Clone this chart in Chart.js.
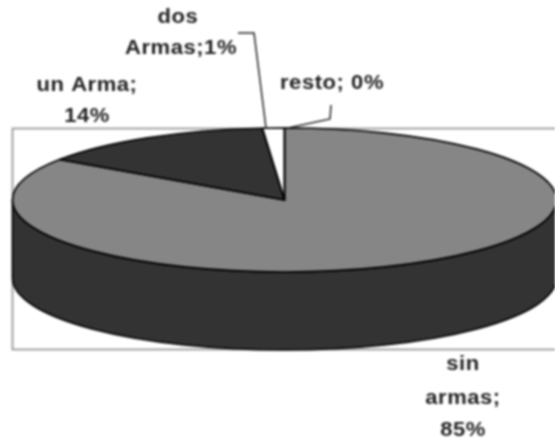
<!DOCTYPE html>
<html>
<head>
<meta charset="utf-8">
<style>
html,body{margin:0;padding:0;background:#fff;overflow:hidden}
#wrap{width:555px;height:440px;position:relative}
canvas{display:block;filter:blur(0.8px)}
</style>
<script src="https://cdn.jsdelivr.net/npm/chart.js@4/dist/chart.umd.min.js"></script>
</head>
<body>
<div id="wrap"><canvas id="c" width="555" height="440"></canvas></div>
<script>
const categories = ['sin armas', 'un Arma', 'dos Armas', 'resto'];
const values = [84.5, 14.2, 1.3, 0];
const sliceColors = ['#868686', '#333333', '#ffffff', '#000000'];

const FACE = {cx: 284.5, cy: 200, rx: 272, ry: 72, depth: 78};
const FONT = 'bold 20px "Liberation Sans", Arial, sans-serif';

function toFace(ctx, el) {
  ctx.translate(FACE.cx, FACE.cy);
  ctx.scale(FACE.rx / el.outerRadius, FACE.ry / el.outerRadius);
  ctx.translate(-el.x, -el.y);
}

const pie3d = {
  id: 'pie3d',
  beforeDatasetsDraw(chart) {
    const ctx = chart.ctx;
    const el = chart.getDatasetMeta(0).data[0];
    // frame
    ctx.save();
    ctx.strokeStyle = '#999999';
    ctx.lineWidth = 1.8;
    ctx.strokeRect(12.5, 128.5, 560, 221);
    ctx.restore();
    // side wall
    ctx.save();
    ctx.beginPath();
    ctx.ellipse(FACE.cx, FACE.cy, FACE.rx, FACE.ry, 0, 0, Math.PI);
    ctx.ellipse(FACE.cx, FACE.cy + FACE.depth, FACE.rx, FACE.ry, 0, Math.PI, 0, true);
    ctx.closePath();
    ctx.fillStyle = '#333333';
    ctx.fill();
    ctx.strokeStyle = '#000';
    ctx.lineWidth = 1.6;
    ctx.stroke();
    ctx.restore();
    ctx.save();
    toFace(ctx, el);
  },
  afterDatasetsDraw(chart) {
    const ctx = chart.ctx;
    ctx.restore();
    const meta = chart.getDatasetMeta(0);
    // slice outlines at a constant width
    meta.data.forEach(el => {
      if (el.circumference <= 0) return;
      ctx.save();
      toFace(ctx, el);
      ctx.beginPath();
      ctx.moveTo(el.x, el.y);
      ctx.arc(el.x, el.y, el.outerRadius, el.startAngle, el.endAngle);
      ctx.closePath();
      ctx.restore();
      ctx.save();
      ctx.strokeStyle = '#000';
      ctx.lineWidth = 1.7;
      ctx.lineJoin = 'round';
      ctx.stroke();
      ctx.restore();
    });
    // leader lines
    ctx.save();
    ctx.strokeStyle = '#222';
    ctx.lineWidth = 1.5;
    ctx.beginPath();
    ctx.moveTo(238, 33); ctx.lineTo(254, 33); ctx.lineTo(266, 128);
    ctx.moveTo(288, 128); ctx.lineTo(330, 119); ctx.lineTo(331, 105);
    ctx.stroke();
    ctx.restore();
    // labels
    const pct = values.map(v => Math.round(v) + '%');
    const texts = [
      ['dos', 178, 17],
      [categories[2].split(' ')[1] + ';' + pct[2], 181, 48],
      [categories[1] + ';', 87, 85],
      [pct[1], 87, 116],
      [categories[3] + '; ' + pct[3], 332, 83],
      [categories[0].split(' ')[0], 463, 364],
      [categories[0].split(' ')[1] + ';', 463, 398],
      [pct[0], 463, 430]
    ];
    ctx.save();
    ctx.font = FONT;
    ctx.letterSpacing = '0.5px';
    ctx.fillStyle = '#222';
    ctx.textAlign = 'center';
    ctx.textBaseline = 'middle';
    texts.forEach(t => {
      ctx.save();
      ctx.translate(t[1], t[2]);
      ctx.scale(1.1, 1);
      ctx.fillText(t[0], 0, 0);
      ctx.restore();
    });
    ctx.restore();
  }
};

new Chart(document.getElementById('c'), {
  type: 'pie',
  data: {
    labels: categories,
    datasets: [{
      data: values,
      backgroundColor: sliceColors,
      borderWidth: 0,
      clip: false
    }]
  },
  options: {
    responsive: false,
    animation: false,
    rotation: 0,
    layout: {padding: 0},
    plugins: {legend: {display: false}, tooltip: {enabled: false}, title: {display: false}}
  },
  plugins: [pie3d]
});
</script>
</body>
</html>
